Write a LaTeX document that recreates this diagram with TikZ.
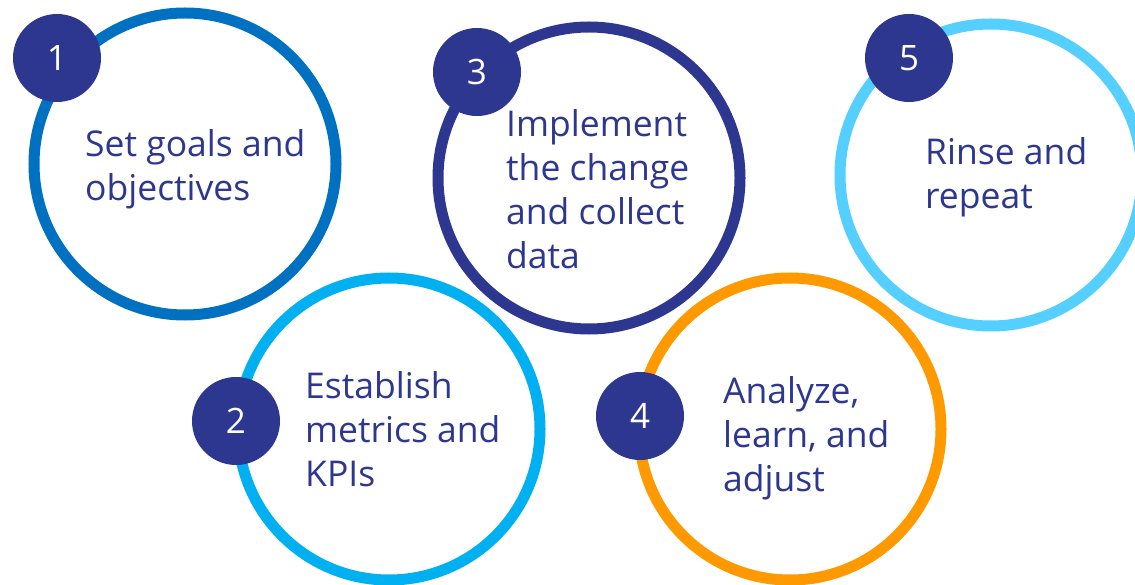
\documentclass[tikz,border=0pt]{standalone}
\usepackage{fontspec}
\setmainfont{Open Sans}
\definecolor{navy}{HTML}{2E3790}
\definecolor{cblue}{HTML}{0070C0}
\definecolor{csky}{HTML}{00B0F0}
\definecolor{corange}{HTML}{FF9900}
\definecolor{ccyan}{HTML}{55CFFF}
\begin{document}
\begin{tikzpicture}[x=1pt,y=-1pt,
  ring/.style={circle,draw=#1,line width=11pt,minimum size=302pt,inner sep=0pt,fill=white},
  badge/.style={circle,fill=navy,minimum size=88pt,inner sep=0pt,text=white,font=\fontsize{35}{40}\selectfont},
  label/.style={anchor=base west,inner sep=0pt,text=navy,font=\fontsize{35.5}{44}\selectfont}]
\useasboundingbox (0,0) rectangle (1135,585);
\clip (0,0) rectangle (1135,585);
\node[ring=cblue] (c1) at (185,164) {};
\node[ring=csky] (c2) at (389,429) {};
\node[ring=navy] (c3) at (589,178) {};
\node[ring=corange] (c4) at (790,429) {};
\node[ring=ccyan] (c5) at (991,175) {};
\node[badge] (b1) at (57,58) {1};
\node[badge] (b2) at (236,421) {2};
\node[badge] (b3) at (477,72) {3};
\node[badge] (b4) at (640,416) {4};
\node[badge] (b5) at (909,58) {5};
\node[label] (t1) at (85,157) {\begin{tabular}[t]{@{}l@{}}Set goals and\\objectives\end{tabular}};
\node[label] (t2) at (305,398) {\begin{tabular}[t]{@{}l@{}}Establish\\metrics and\\KPIs\end{tabular}};
\node[label] (t3) at (506,137) {\begin{tabular}[t]{@{}l@{}}Implement\\the change\\and collect\\data\end{tabular}};
\node[label] (t4) at (723,403) {\begin{tabular}[t]{@{}l@{}}Analyze,\\learn, and\\adjust\end{tabular}};
\node[label] (t5) at (925,165) {\begin{tabular}[t]{@{}l@{}}Rinse and\\repeat\end{tabular}};
\end{tikzpicture}
\end{document}
